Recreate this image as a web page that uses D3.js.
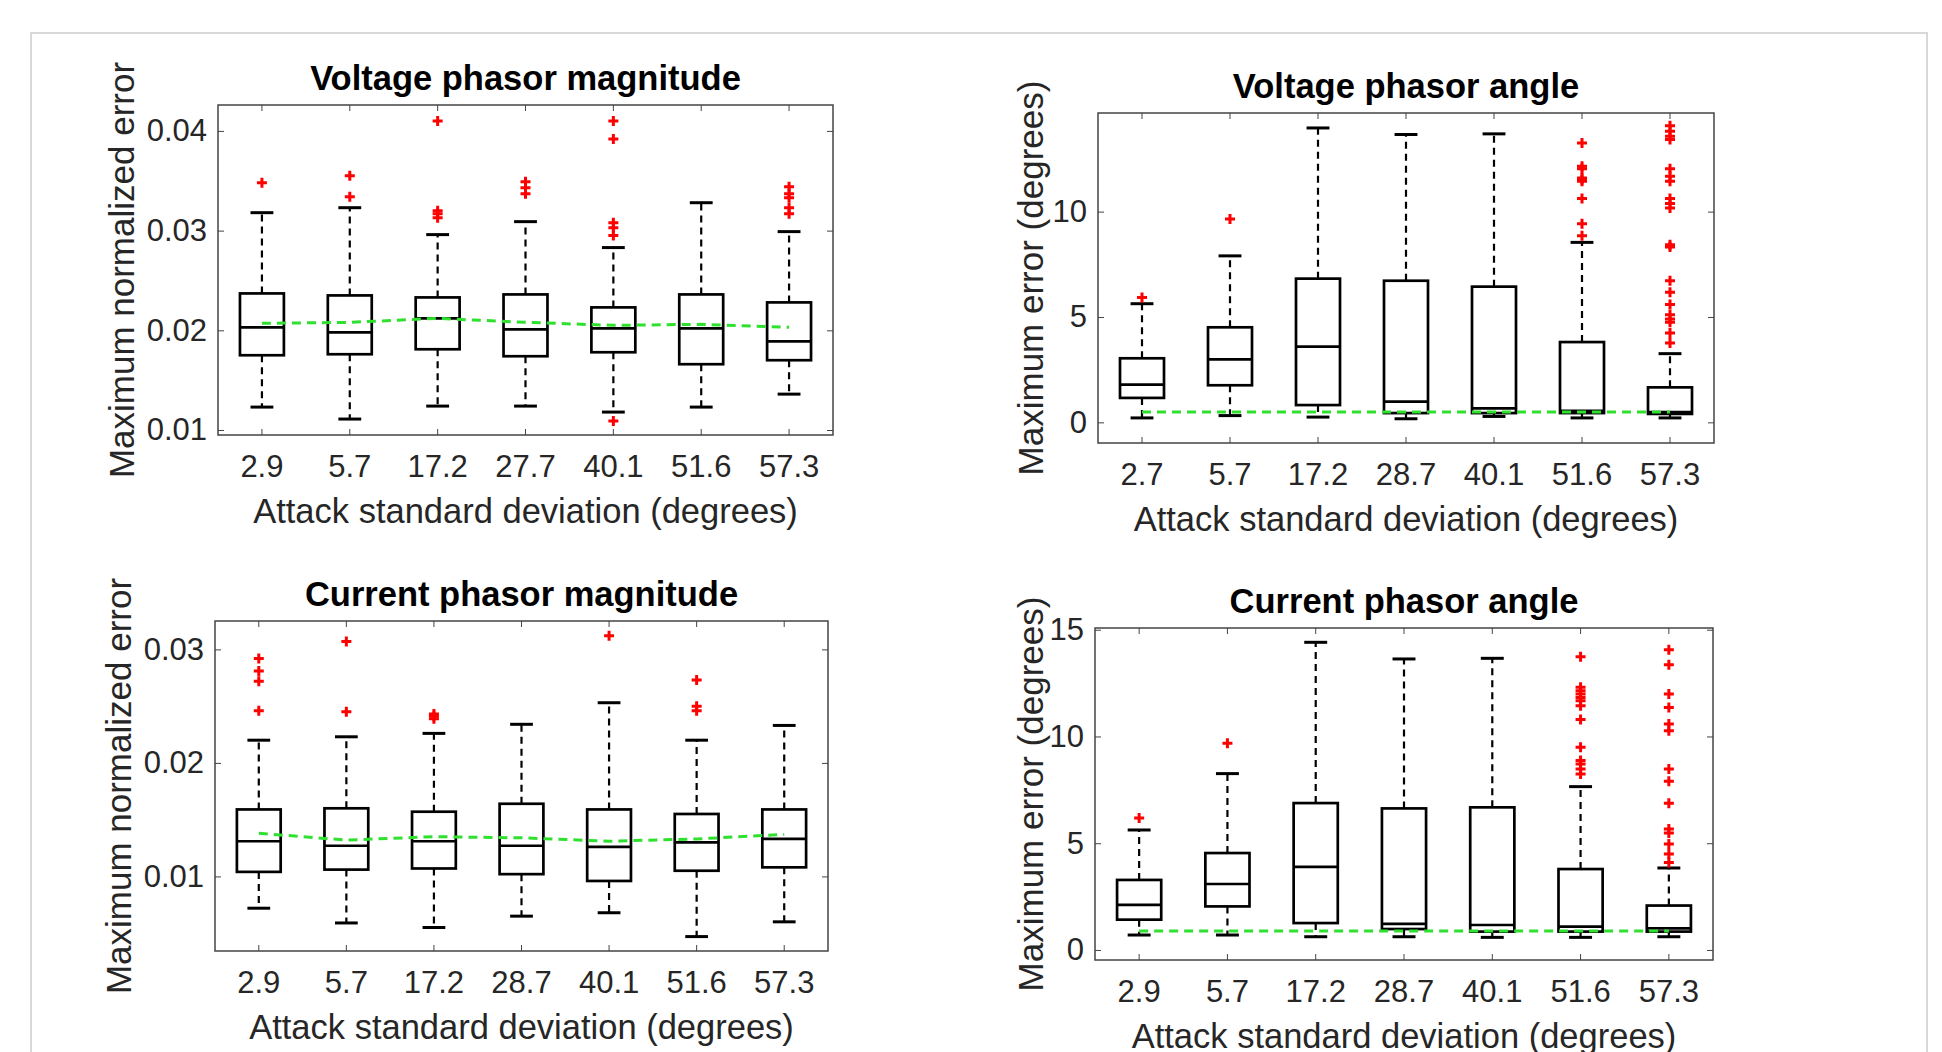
<!DOCTYPE html>
<html>
<head>
<meta charset="utf-8">
<script src="https://cdn.jsdelivr.net/npm/d3@7"></script>
<style>
  body { margin: 0; background: #fff; }
  svg { display: block; font-family: "Liberation Sans", Arial, sans-serif; }
</style>
</head>
<body>
<div id="chart"></div>
<script>
// ---- data ----
// Voltage phasor magnitude
const vmCats = ["2.9", "5.7", "17.2", "27.7", "40.1", "51.6", "57.3"];
const vmUpper = [0.0318, 0.0323, 0.0296, 0.0309, 0.0283, 0.0328, 0.0299];
const vmQ3 = [0.0237, 0.0235, 0.0233, 0.0236, 0.0223, 0.0236, 0.0228];
const vmMedian = [0.0203, 0.0198, 0.0212, 0.0201, 0.0202, 0.0202, 0.0189];
const vmQ1 = [0.0175, 0.0176, 0.0181, 0.0174, 0.0178, 0.0166, 0.0170];
const vmLower = [0.0123, 0.0111, 0.0124, 0.0124, 0.0118, 0.0123, 0.0136];
const vmOutliers = [
  [0.0348],
  [0.0355, 0.0334],
  [0.0410, 0.0320, 0.0317, 0.0313],
  [0.0349, 0.0343, 0.0337],
  [0.0410, 0.0392, 0.0308, 0.0303, 0.0295, 0.0109],
  [],
  [0.0344, 0.0337, 0.0333, 0.0323, 0.0317]
];
const vmMean = [0.0207, 0.0208, 0.0212, 0.0208, 0.0205, 0.0206, 0.0203];
const vmTicks = [0.01, 0.02, 0.03, 0.04];

// Voltage phasor angle
const vaCats = ["2.7", "5.7", "17.2", "28.7", "40.1", "51.6", "57.3"];
const vaUpper = [5.63, 7.9, 13.97, 13.66, 13.69, 8.54, 3.26];
const vaQ3 = [3.04, 4.51, 6.82, 6.72, 6.44, 3.81, 1.66];
const vaMedian = [1.79, 2.99, 3.59, 0.98, 0.66, 0.55, 0.49];
const vaQ1 = [1.16, 1.76, 0.82, 0.44, 0.44, 0.44, 0.40];
const vaLower = [0.21, 0.32, 0.25, 0.17, 0.28, 0.21, 0.21];
const vaOutliers = [
  [5.93],
  [9.65],
  [],
  [],
  [],
  [13.26, 12.15, 12.03, 11.6, 11.52, 11.44, 10.62, 9.43, 8.86],
  [14.08, 13.81, 13.58, 13.42, 12.03, 11.68, 11.44, 10.62, 10.38, 10.17,
   8.43, 8.32, 6.72, 6.17, 5.59, 5.11, 4.91, 4.75, 4.24, 3.77]
];
const vaMean = [0.49, 0.49, 0.49, 0.49, 0.49, 0.49, 0.49];
const vaTicks = [0, 5, 10];

// Current phasor magnitude
const cmCats = ["2.9", "5.7", "17.2", "28.7", "40.1", "51.6", "57.3"];
const cmUpper = [0.0220, 0.0223, 0.0226, 0.0234, 0.0253, 0.0220, 0.0233];
const cmQ3 = [0.0159, 0.0160, 0.0157, 0.0164, 0.0159, 0.0155, 0.0159];
const cmMedian = [0.0131, 0.0127, 0.0131, 0.0127, 0.0126, 0.0130, 0.0133];
const cmQ1 = [0.0104, 0.0106, 0.0107, 0.0102, 0.0096, 0.0105, 0.0108];
const cmLower = [0.0072, 0.0059, 0.0055, 0.0065, 0.0068, 0.0047, 0.0060];
const cmOutliers = [
  [0.0292, 0.0281, 0.0272, 0.0246],
  [0.0307, 0.0245],
  [0.0243, 0.0241, 0.0239],
  [],
  [0.0312],
  [0.0273, 0.0250, 0.0246],
  []
];
const cmMean = [0.0138, 0.0132, 0.0135, 0.0134, 0.0131, 0.0133, 0.0137];
const cmTicks = [0.01, 0.02, 0.03];

// Current phasor angle
const caCats = ["2.9", "5.7", "17.2", "28.7", "40.1", "51.6", "57.3"];
const caUpper = [5.62, 8.26, 14.41, 13.63, 13.66, 7.65, 3.84];
const caQ3 = [3.28, 4.54, 6.88, 6.63, 6.68, 3.79, 2.08];
const caMedian = [2.11, 3.09, 3.89, 1.22, 1.17, 1.09, 1.01];
const caQ1 = [1.42, 2.04, 1.26, 0.98, 0.86, 0.86, 0.86];
const caLower = [0.70, 0.70, 0.62, 0.62, 0.59, 0.59, 0.62];
const caOutliers = [
  [6.18],
  [9.68],
  [],
  [],
  [],
  [13.73, 12.3, 12.14, 11.99, 11.83, 11.67, 11.44, 10.79, 9.49, 8.87, 8.71, 8.48, 8.24],
  [14.06, 13.36, 11.99, 11.36, 10.58, 10.27, 8.48, 7.90, 6.87, 5.67, 5.48, 4.96, 4.50, 4.10]
];
const caMean = [0.89, 0.89, 0.89, 0.89, 0.89, 0.89, 0.89];
const caTicks = [0, 5, 10, 15];

const xTitle = "Attack standard deviation (degrees)";

// ---- chart ----
const width = 1942;
const height = 1052;

const svg = d3
  .select("#chart")
  .append("svg")
  .attr("width", width)
  .attr("height", height)
  .attr("viewBox", [0, 0, width, height]);

// light frame around the figure
svg
  .append("rect")
  .attr("x", 31)
  .attr("y", 33)
  .attr("width", 1896)
  .attr("height", 1100)
  .attr("fill", "none")
  .attr("stroke", "#d8d8d8")
  .attr("stroke-width", 2);

function drawPanel(p) {
  const x = d3
    .scaleBand()
    .domain(p.cats)
    .range([p.left, p.right])
    .paddingInner(0)
    .paddingOuter(0);
  const y = d3.scaleLinear().domain(p.yDomain).range([p.bottom, p.top]);
  const bw = x.bandwidth();
  const cx = (c) => x(c) + bw / 2;
  const boxW = bw * 0.5;
  const capW = bw * 0.26;

  const g = svg.append("g");

  // axes with inward ticks on all four sides
  g.append("g")
    .attr("transform", `translate(0,${p.bottom})`)
    .call(d3.axisBottom(x).tickSizeInner(-6).tickSizeOuter(0).tickPadding(20))
    .call((a) => a.select(".domain").remove())
    .call((a) => a.selectAll("line").attr("stroke", "#444"))
    .call((a) =>
      a.selectAll("text").attr("font-size", 31).attr("fill", "#262626")
    );
  g.append("g")
    .attr("transform", `translate(0,${p.top})`)
    .call(d3.axisTop(x).tickSizeInner(-6).tickSizeOuter(0).tickFormat(""))
    .call((a) => a.select(".domain").remove())
    .call((a) => a.selectAll("line").attr("stroke", "#444"));
  g.append("g")
    .attr("transform", `translate(${p.left},0)`)
    .call(
      d3.axisLeft(y).tickValues(p.ticks).tickFormat(p.fmt)
        .tickSizeInner(-6).tickSizeOuter(0).tickPadding(11)
    )
    .call((a) => a.select(".domain").remove())
    .call((a) => a.selectAll("line").attr("stroke", "#444"))
    .call((a) =>
      a.selectAll("text").attr("font-size", 31).attr("fill", "#262626")
    );
  g.append("g")
    .attr("transform", `translate(${p.right},0)`)
    .call(
      d3.axisRight(y).tickValues(p.ticks).tickFormat("")
        .tickSizeInner(-6).tickSizeOuter(0)
    )
    .call((a) => a.select(".domain").remove())
    .call((a) => a.selectAll("line").attr("stroke", "#444"));

  // axes box
  g.append("rect")
    .attr("x", p.left)
    .attr("y", p.top)
    .attr("width", p.right - p.left)
    .attr("height", p.bottom - p.top)
    .attr("fill", "none")
    .attr("stroke", "#444")
    .attr("stroke-width", 1.5);

  const rows = p.cats.map((c, i) => ({
    c: c,
    up: p.upper[i],
    q3: p.q3[i],
    med: p.median[i],
    q1: p.q1[i],
    lo: p.lower[i],
    out: p.outliers[i],
  }));

  const bx = g.append("g").selectAll("g").data(rows).join("g");

  // dashed whiskers
  bx.append("line")
    .attr("x1", (d) => cx(d.c)).attr("x2", (d) => cx(d.c))
    .attr("y1", (d) => y(d.q3)).attr("y2", (d) => y(d.up))
    .attr("stroke", "#000").attr("stroke-width", 2.2)
    .attr("stroke-dasharray", "7,5");
  bx.append("line")
    .attr("x1", (d) => cx(d.c)).attr("x2", (d) => cx(d.c))
    .attr("y1", (d) => y(d.q1)).attr("y2", (d) => y(d.lo))
    .attr("stroke", "#000").attr("stroke-width", 2.2)
    .attr("stroke-dasharray", "7,5");
  // whisker caps
  bx.append("line")
    .attr("x1", (d) => cx(d.c) - capW / 2).attr("x2", (d) => cx(d.c) + capW / 2)
    .attr("y1", (d) => y(d.up)).attr("y2", (d) => y(d.up))
    .attr("stroke", "#000").attr("stroke-width", 3);
  bx.append("line")
    .attr("x1", (d) => cx(d.c) - capW / 2).attr("x2", (d) => cx(d.c) + capW / 2)
    .attr("y1", (d) => y(d.lo)).attr("y2", (d) => y(d.lo))
    .attr("stroke", "#000").attr("stroke-width", 3);
  // box
  bx.append("rect")
    .attr("x", (d) => cx(d.c) - boxW / 2)
    .attr("y", (d) => y(d.q3))
    .attr("width", boxW)
    .attr("height", (d) => y(d.q1) - y(d.q3))
    .attr("fill", "none")
    .attr("stroke", "#000")
    .attr("stroke-width", 2.7);
  // median
  bx.append("line")
    .attr("x1", (d) => cx(d.c) - boxW / 2).attr("x2", (d) => cx(d.c) + boxW / 2)
    .attr("y1", (d) => y(d.med)).attr("y2", (d) => y(d.med))
    .attr("stroke", "#000").attr("stroke-width", 2.7);
  // outliers as red plus signs
  bx.selectAll("path.out")
    .data((d) => d.out.map((v) => ({ c: d.c, v: v })))
    .join("path")
    .attr("class", "out")
    .attr("d", (d) => {
      const px = cx(d.c), py = y(d.v), r = 5;
      return `M${px - r},${py}H${px + r}M${px},${py - r}V${py + r}`;
    })
    .attr("stroke", "#f00")
    .attr("stroke-width", 3)
    .attr("fill", "none");

  // green dashed mean line
  const line = d3
    .line()
    .x((d, i) => cx(p.cats[i]))
    .y((d) => y(d));
  g.append("path")
    .attr("d", line(p.mean))
    .attr("fill", "none")
    .attr("stroke", "#2fe02f")
    .attr("stroke-width", 3)
    .attr("stroke-dasharray", "9,6");

  // title and labels
  g.append("text")
    .attr("x", (p.left + p.right) / 2)
    .attr("y", p.top - 15)
    .attr("text-anchor", "middle")
    .attr("font-size", 34.5)
    .attr("font-weight", "bold")
    .attr("fill", "#000")
    .text(p.title);
  g.append("text")
    .attr("x", (p.left + p.right) / 2)
    .attr("y", p.bottom + 88)
    .attr("text-anchor", "middle")
    .attr("font-size", 34.5)
    .attr("fill", "#262626")
    .text(xTitle);
  g.append("text")
    .attr("transform", `translate(${p.left - p.yLabelOff},${(p.top + p.bottom) / 2}) rotate(-90)`)
    .attr("text-anchor", "middle")
    .attr("dominant-baseline", "central")
    .attr("font-size", 35)
    .attr("fill", "#262626")
    .text(p.yTitle);
}

const fmtMag = (d) => d3.format(".2f")(d);
const fmtAng = (d) => d3.format("d")(d);

drawPanel({
  title: "Voltage phasor magnitude", yTitle: "Maximum normalized error",
  cats: vmCats, upper: vmUpper, q3: vmQ3, median: vmMedian, q1: vmQ1,
  lower: vmLower, outliers: vmOutliers, mean: vmMean, ticks: vmTicks,
  yDomain: [0.0095, 0.0426], fmt: fmtMag,
  left: 218, right: 833, top: 105, bottom: 435, yLabelOff: 97,
});
drawPanel({
  title: "Voltage phasor angle", yTitle: "Maximum error (degrees)",
  cats: vaCats, upper: vaUpper, q3: vaQ3, median: vaMedian, q1: vaQ1,
  lower: vaLower, outliers: vaOutliers, mean: vaMean, ticks: vaTicks,
  yDomain: [-0.98, 14.68], fmt: fmtAng,
  left: 1098, right: 1714, top: 113, bottom: 443, yLabelOff: 68,
});
drawPanel({
  title: "Current phasor magnitude", yTitle: "Maximum normalized error",
  cats: cmCats, upper: cmUpper, q3: cmQ3, median: cmMedian, q1: cmQ1,
  lower: cmLower, outliers: cmOutliers, mean: cmMean, ticks: cmTicks,
  yDomain: [0.00343, 0.0325], fmt: fmtMag,
  left: 215, right: 828, top: 621, bottom: 951, yLabelOff: 97,
});
drawPanel({
  title: "Current phasor angle", yTitle: "Maximum error (degrees)",
  cats: caCats, upper: caUpper, q3: caQ3, median: caMedian, q1: caQ1,
  lower: caLower, outliers: caOutliers, mean: caMean, ticks: caTicks,
  yDomain: [-0.47, 15.08], fmt: fmtAng,
  left: 1095, right: 1713, top: 628, bottom: 960, yLabelOff: 65,
});
</script>
</body>
</html>
